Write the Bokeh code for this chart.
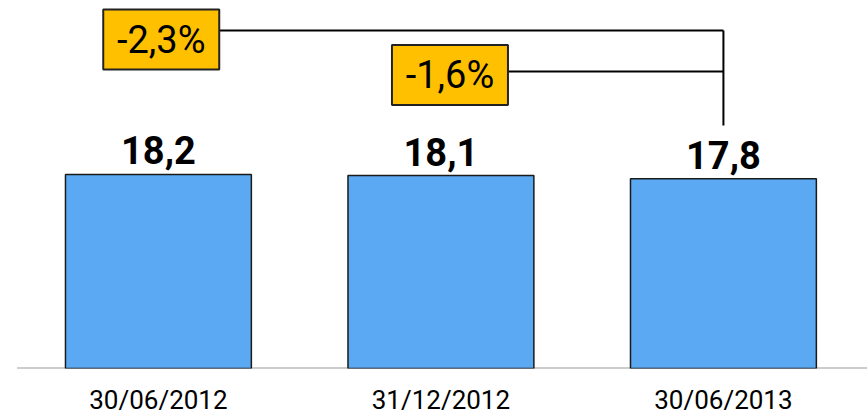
from bokeh.plotting import figure
from bokeh.models import Range1d, FixedTicker, ColumnDataSource
from bokeh.core.properties import value
from bokeh.embed import file_html
from bokeh.resources import INLINE

# ---- data ----
dates = ["30/06/2012", "31/12/2012", "30/06/2013"]
values = [18.2, 18.1, 17.8]
value_labels = ["18,2", "18,1", "17,8"]
change_labels = ["-2,3%", "-1,6%"]
change_from = [0, 1]      # index of the bar each change is measured from
change_to = 2             # index of the bar each change is measured to

FONT = "Roboto"

xs = list(range(len(values)))
x_start, x_end = -0.559, 2.510

p = figure(frame_width=867, frame_height=368, output_backend="svg",
           toolbar_location=None, min_border=0,
           x_range=Range1d(x_start, x_end), y_range=Range1d(0, 34.52))
p.outline_line_color = None
p.grid.visible = False
p.yaxis.visible = False
p.background_fill_color = "white"
p.border_fill_color = "white"

# baseline (starts half a category before the first bar)
p.segment(x0=[xs[0] - 0.5], y0=[0], x1=[x_end], y1=[0],
          line_color="#9a9a9a", line_width=2)

# bars
src = ColumnDataSource(dict(x=xs, top=values, lab=value_labels, date=dates))
p.vbar(x="x", top="top", bottom=0, width=0.658, source=src,
       fill_color="#5AA9F2", line_color="#1a1a1a", line_width=1.5)

# value labels
p.text(x="x", y="top", text="lab", source=src, text_align="center",
       text_baseline="bottom", y_offset=-10,
       text_font=value(FONT), text_font_style="bold", text_font_size="38px",
       text_color="black")

# x axis
ax = p.xaxis[0]
ax.ticker = FixedTicker(ticks=xs)
ax.major_label_overrides = {i: d for i, d in enumerate(dates)}
ax.axis_line_color = None
ax.major_tick_line_color = None
ax.minor_tick_line_color = None
ax.major_tick_out = 0
ax.major_tick_in = 0
ax.major_label_standoff = 16
ax.major_label_text_font = FONT
ax.major_label_text_font_size = "26px"
ax.major_label_text_color = "black"

# change boxes and connectors (positioned relative to bars)
px_per_x = 282.5
box_w, box_h = 116, 60
box_x = [change_from[0] + 0.01, change_from[1] + 0.032]
box_y = [30.86, 27.53]
conn_y = [31.71, 27.86]
right_edges = [bx + (box_w / 2) / px_per_x for bx in box_x]
end_x = change_to

p.segment(x0=right_edges, y0=conn_y, x1=[end_x, end_x], y1=conn_y,
          line_color="black", line_width=2)
p.segment(x0=[end_x], y0=[conn_y[0]], x1=[end_x], y1=[22.8],
          line_color="black", line_width=2)

p.rect(x=box_x, y=box_y, width=box_w, height=box_h,
       width_units="screen", height_units="screen",
       fill_color="#FFC000", line_color="#222222", line_width=2)
p.text(x=box_x, y=box_y, text=change_labels, text_align="center",
       text_baseline="middle", text_font=value(FONT),
       text_font_size="38px", text_color="black")

open("out.html", "w").write(file_html(p, INLINE))
